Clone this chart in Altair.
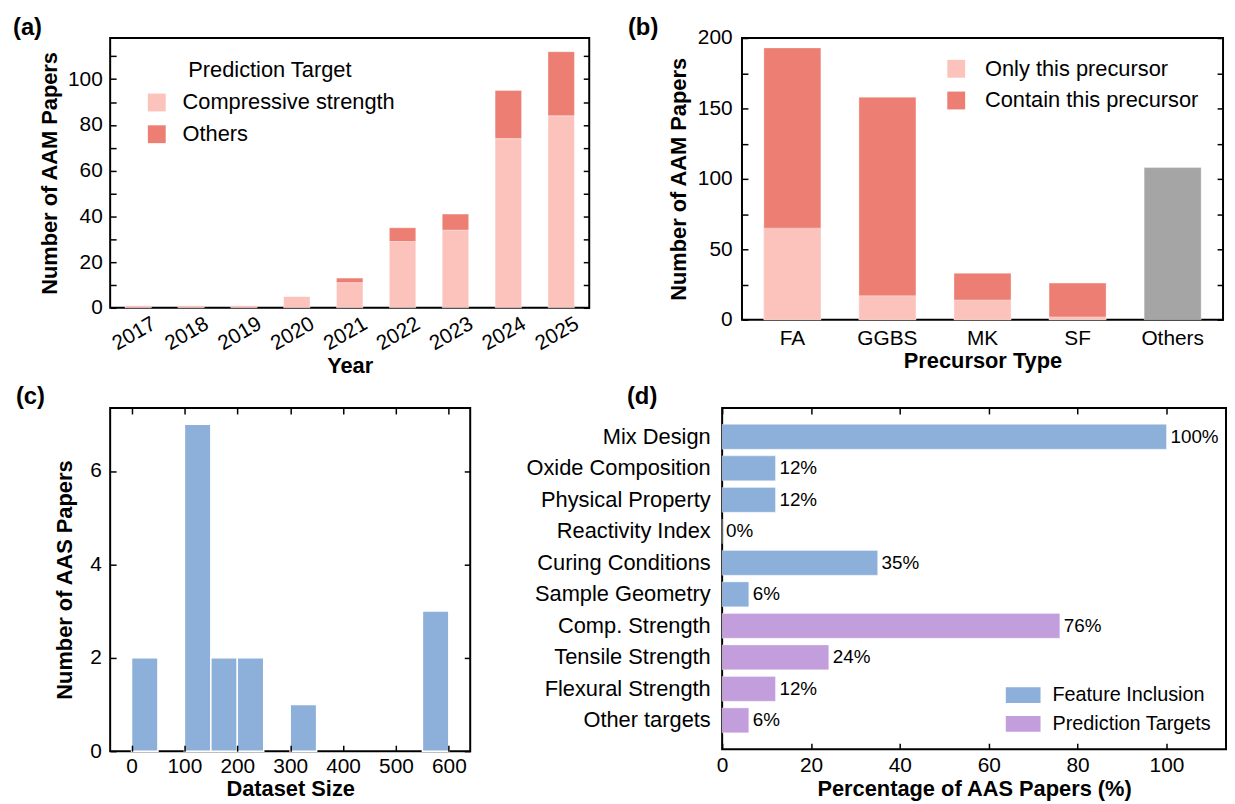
import altair as alt
import pandas as pd

FONT = "Liberation Sans"
PINK = "#FCC3BC"
RED = "#EC7E73"
GRAY = "#A5A5A5"
BLUE = "#8CB0DA"
PURPLE = "#C39EDD"
TICK = 6

# ---------------- data ----------------
# (a) papers per year
years = ["2017", "2018", "2019", "2020", "2021", "2022", "2023", "2024", "2025"]
comp_strength = [1, 1, 1, 5, 11, 29, 34, 74, 84]
other_targets = [0, 0, 0, 0, 2, 6, 7, 21, 28]
targets = ["Compressive strength", "Others"]

# (b) precursor types
precursors = ["FA", "GGBS", "MK", "SF", "Others"]
contain_this = [193, 158, 33, 26]
only_this = [65, 17, 14, 2]
others_count = [108]
series_b = ["Only this precursor", "Contain this precursor", "Others"]

# (c) dataset size histogram
bin_start = [0, 100, 150, 200, 300, 550]
bin_end = [50, 150, 200, 250, 350, 600]
bin_count = [2, 7, 2, 2, 1, 3]

# (d) feature inclusion / prediction targets
features = ["Mix Design", "Oxide Composition", "Physical Property", "Reactivity Index",
            "Curing Conditions", "Sample Geometry", "Comp. Strength", "Tensile Strength",
            "Flexural Strength", "Other targets"]
pct = [100, 12, 12, 0, 35, 6, 76, 24, 12, 6]
groups = ["Feature Inclusion", "Feature Inclusion", "Feature Inclusion", "Feature Inclusion",
          "Feature Inclusion", "Feature Inclusion", "Prediction Targets", "Prediction Targets",
          "Prediction Targets", "Prediction Targets"]
group_names = ["Feature Inclusion", "Prediction Targets"]

# tick positions
a_ticks = [0, 10, 20, 30, 40, 50, 60, 70, 80, 90, 100, 110]
b_ticks = [0, 25, 50, 75, 100, 125, 150, 175, 200]
c_xticks = [0, 100, 200, 300, 400, 500, 600]
c_yticks = [0, 2, 4, 6]
d_ticks = [0, 20, 40, 60, 80, 100]


def ax(orient, values=None, labels=True, title=None, ticks=True, lab_pad=6,
       tit_pad=4, lab_size=21, **extra):
    kw = dict(orient=orient, domain=False, grid=False, labels=labels, ticks=ticks,
              labelFont=FONT, labelFontSize=lab_size, labelColor="black",
              labelPadding=lab_pad, labelFlush=False, labelOverlap=False, labelLimit=400,
              titleFont=FONT, titleFontSize=22, titleFontWeight="bold",
              titleColor="black", titlePadding=tit_pad, title=title, zindex=1)
    if ticks:
        kw.update(tickSize=TICK, tickWidth=1.5, tickColor="black", offset=-TICK)
    if values is not None:
        kw["values"] = values
    kw.update(extra)
    return alt.Axis(**kw)


def panel_title(text, dx, offset=-2):
    return alt.TitleParams(text, anchor="start", frame="group", dx=dx, offset=offset,
                           fontSize=24, font=FONT, fontWeight="bold", color="black")


# ---------------- (a) ----------------
n = len(years)
df_a = pd.DataFrame({
    "Year": years + years,
    "Target": [targets[0]] * n + [targets[1]] * n,
    "Count": comp_strength + other_targets,
    "Order": [0] * n + [1] * n,
})
x_a = alt.X("Year:N", sort=years,
            scale=alt.Scale(paddingInner=0.5, paddingOuter=0.28),
            axis=ax("bottom", ticks=False, title="Year", lab_pad=26, tit_pad=2,
                    labelAngle=330, labelAlign="center", labelBaseline="middle",
                    labelOffset=-4))
ya_scale = alt.Scale(domain=[0, 118], nice=False)
bars_a = alt.Chart(df_a).mark_bar(stroke="white", strokeWidth=0.6, strokeOpacity=0.6).encode(
    x=x_a,
    y=alt.Y("Count:Q", stack="zero", scale=ya_scale,
            axis=ax("left", a_ticks, title="Number of AAM Papers", lab_pad=8, tit_pad=6,
                    labelExpr="datum.value % 20 == 0 ? datum.label : ''")),
    color=alt.Color("Target:N", scale=alt.Scale(domain=targets, range=[PINK, RED]),
                    legend=alt.Legend(title="Prediction Target", orient="none",
                                      legendX=36, legendY=22, padding=0,
                                      titleFont=FONT, titleFontSize=22,
                                      titleFontWeight="normal", titleColor="black",
                                      titleAnchor="middle", titlePadding=10, titleLimit=400,
                                      labelFont=FONT, labelFontSize=22, labelColor="black",
                                      labelLimit=400,
                                      labelOffset=15, symbolType="square", symbolSize=324,
                                      symbolStrokeWidth=0, rowPadding=10)),
    order=alt.Order("Order:Q"),
)
mirror_a = alt.Chart(df_a).mark_bar(opacity=0).encode(
    x=x_a,
    y=alt.Y("Count:Q", stack="zero", scale=ya_scale, axis=ax("right", a_ticks, labels=False)),
)
chart_a = alt.layer(bars_a, mirror_a).resolve_axis(y="independent").properties(
    width=483, height=272, title=panel_title("(a)", -98, -2))

# ---------------- (b) ----------------
k = len(contain_this)
df_b = pd.DataFrame({
    "Precursor": precursors[:k] + precursors[:k] + precursors[k:],
    "Series": [series_b[1]] * k + [series_b[0]] * k + [series_b[2]],
    "Count": contain_this + only_this + others_count,
    "Z": [0] * k + [1] * k + [0],
})
x_b = alt.X("Precursor:N", sort=precursors,
            scale=alt.Scale(paddingInner=0.4, paddingOuter=0.23),
            axis=ax("bottom", ticks=False, title="Precursor Type", lab_pad=8, tit_pad=2,
                    labelAngle=0))
yb_scale = alt.Scale(domain=[0, 200], nice=False)
bars_b = alt.Chart(df_b).mark_bar(stroke="white", strokeWidth=0.6, strokeOpacity=0.6).encode(
    x=x_b,
    y=alt.Y("Count:Q", stack=None, scale=yb_scale,
            axis=ax("left", b_ticks, title="Number of AAM Papers", lab_pad=10, tit_pad=7,
                    labelExpr="datum.value % 50 == 0 ? datum.label : ''")),
    color=alt.Color("Series:N", scale=alt.Scale(domain=series_b, range=[PINK, RED, GRAY]),
                    legend=alt.Legend(title=None, orient="none", values=series_b[:2],
                                      legendX=205, legendY=20, padding=0,
                                      labelFont=FONT, labelFontSize=22, labelColor="black",
                                      labelLimit=400,
                                      labelOffset=18, symbolType="square", symbolSize=324,
                                      symbolStrokeWidth=0, rowPadding=10)),
    order=alt.Order("Z:Q"),
)
mirror_b = alt.Chart(df_b).mark_bar(opacity=0).encode(
    x=x_b,
    y=alt.Y("Count:Q", stack=None, scale=yb_scale, axis=ax("right", b_ticks, labels=False)),
)
chart_b = alt.layer(bars_b, mirror_b).resolve_axis(y="independent").properties(
    width=485, height=284, title=panel_title("(b)", -115, -13))

# ---------------- (c) ----------------
df_c = pd.DataFrame({"Start": bin_start, "End": bin_end, "Count": bin_count})
xc_scale = alt.Scale(domain=[-31, 631], nice=False, zero=False)
yc_scale = alt.Scale(domain=[0, 7.35], nice=False)
bars_c = alt.Chart(df_c).mark_bar(color=BLUE, stroke="white", strokeWidth=1.5,
                                  orient="vertical").encode(
    x=alt.X("Start:Q", scale=xc_scale,
            axis=ax("bottom", c_xticks, title="Dataset Size", lab_pad=5, tit_pad=2)),
    x2="End:Q",
    y=alt.Y("Count:Q", scale=yc_scale,
            axis=ax("left", c_yticks, title="Number of AAS Papers", lab_pad=9, tit_pad=13)),
    y2=alt.datum(0),
)
mirror_c = alt.Chart(df_c).mark_bar(opacity=0, orient="vertical").encode(
    x=alt.X("Start:Q", scale=xc_scale, axis=ax("top", c_xticks, labels=False)),
    x2="End:Q",
    y=alt.Y("Count:Q", scale=yc_scale, axis=ax("right", c_yticks, labels=False)),
    y2=alt.datum(0),
)
chart_c = alt.layer(bars_c, mirror_c).resolve_axis(x="independent", y="independent").properties(
    width=363, height=346, title=panel_title("(c)", -95, -2))

# ---------------- (d) ----------------
df_d = pd.DataFrame({"Feature": features, "Pct": pct, "Group": groups,
                     "Label": [f"{v}%" for v in pct]})
xd_scale = alt.Scale(domain=[0, 113.4], nice=False)
y_d = alt.Y("Feature:N", sort=features,
            scale=alt.Scale(paddingInner=0.21, paddingOuter=0.52),
            axis=ax("left", ticks=False, title=None, lab_pad=12, lab_size=22))
bars_d = alt.Chart(df_d).mark_bar(stroke="white", strokeWidth=0.6, strokeOpacity=0.6).encode(
    x=alt.X("Pct:Q", scale=xd_scale,
            axis=ax("bottom", d_ticks, title="Percentage of AAS Papers (%)", lab_pad=6, tit_pad=3)),
    y=y_d,
    color=alt.Color("Group:N", scale=alt.Scale(domain=group_names, range=[BLUE, PURPLE]),
                    legend=alt.Legend(title=None, orient="none", legendX=286, legendY=272,
                                      padding=0, labelFont=FONT, labelFontSize=20,
                                      labelColor="black", labelOffset=12, labelLimit=400,
                                      symbolType="M-1,-0.45L1,-0.45L1,0.45L-1,0.45Z",
                                      symbolSize=1225, symbolStrokeWidth=0, rowPadding=1)),
)
text_d = alt.Chart(df_d).mark_text(align="left", baseline="middle", dx=4, fontSize=19,
                                   font=FONT, color="black").encode(
    x=alt.X("Pct:Q", scale=xd_scale, axis=None),
    y=y_d,
    text="Label:N",
)
mirror_d = alt.Chart(df_d).mark_bar(opacity=0).encode(
    x=alt.X("Pct:Q", scale=xd_scale, axis=ax("top", d_ticks, labels=False)),
    y=y_d,
)
chart_d = alt.layer(bars_d, text_d, mirror_d).resolve_axis(x="independent").properties(
    width=508, height=344, title=panel_title("(d)", -96, -2))

row1 = alt.hconcat(chart_a, chart_b, spacing=36).resolve_scale(color="independent")
row2 = alt.hconcat(chart_c, chart_d, spacing=53).resolve_scale(color="independent")
chart = alt.vconcat(row1, row2, spacing=6).resolve_scale(color="independent").properties(
    padding={"left": 4, "top": 4, "right": 0, "bottom": 0}
).configure(font=FONT).configure_view(stroke="black", strokeWidth=2)

chart.save("out.html", embed_options={"renderer": "svg", "actions": False})
